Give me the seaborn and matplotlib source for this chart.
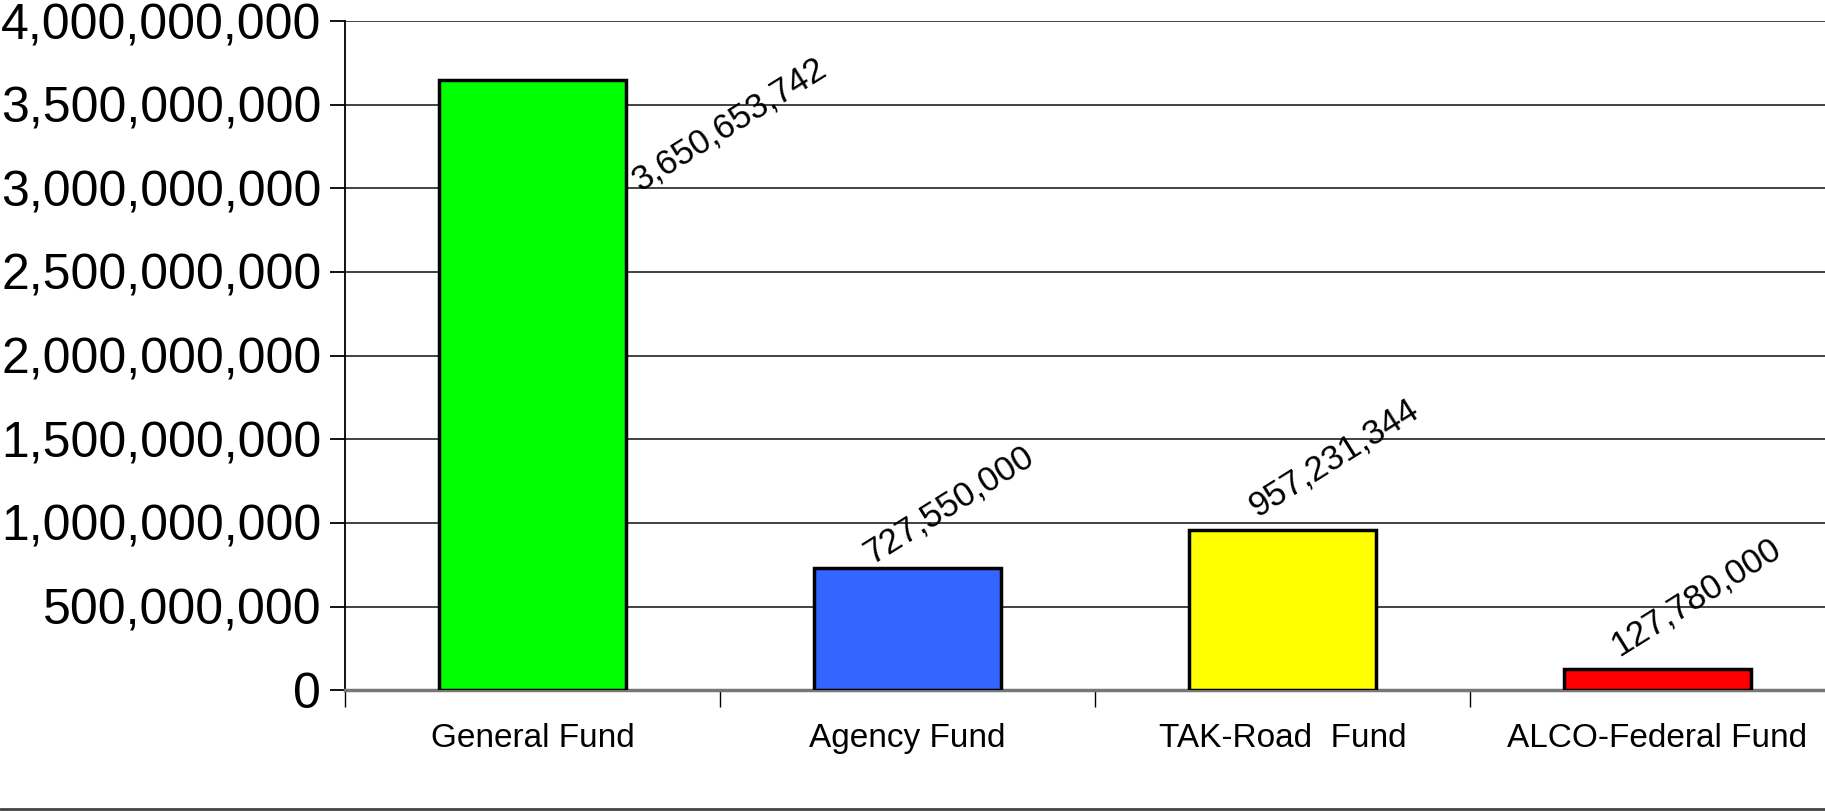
import pandas as pd
import matplotlib.pyplot as plt
import seaborn as sns
from matplotlib.ticker import FuncFormatter, MultipleLocator, FixedLocator
from matplotlib.lines import Line2D


funds = ["General Fund", "Agency Fund", "TAK-Road  Fund", "ALCO-Federal Fund"]
amounts = [3650653742, 727550000, 957231344, 127780000]
bar_colors = ["#00FF00", "#3366FF", "#FFFF00", "#FF0000"]

df = pd.DataFrame({"Fund": funds, "Amount": amounts})

sns.set_style("white")
plt.rcParams["font.family"] = ["Liberation Sans", "DejaVu Sans"]
plt.rcParams["text.color"] = "black"
plt.rcParams["xtick.color"] = "black"
plt.rcParams["ytick.color"] = "black"

fig = plt.figure(figsize=(18.25, 8.11), dpi=100)
# axes runs a little past the right edge, as in the original slide
ax = fig.add_axes([0.189, 0.149, 0.822, 0.825])

sns.barplot(data=df, x="Fund", y="Amount", hue="Fund", palette=bar_colors,
            legend=False, width=0.5, edgecolor="black", linewidth=2.5,
            saturation=1, ax=ax, zorder=3)

ax.set_xlim(-0.5, 3.5)
ax.set_ylim(0, 4000000000)
ax.yaxis.set_major_locator(MultipleLocator(500000000))
ax.yaxis.set_major_formatter(FuncFormatter(lambda v, p: f"{int(v):,}"))
ax.grid(axis="y", color="#333333", linewidth=1.3, zorder=0)
ax.set_axisbelow(True)

for s in ["top", "right"]:
    ax.spines[s].set_visible(False)
ax.spines["left"].set_color("black")
ax.spines["left"].set_linewidth(1.3)
ax.spines["bottom"].set_color("#777777")
ax.spines["bottom"].set_linewidth(2.5)

ax.tick_params(axis="y", which="major", left=True, length=11, width=1.3,
               labelsize=36, pad=6, color="black", labelcolor="black")
ax.tick_params(axis="x", which="major", length=0, labelsize=24, pad=24,
               labelcolor="black")
ax.xaxis.set_minor_locator(FixedLocator([-0.5, 0.5, 1.5, 2.5]))
ax.tick_params(axis="x", which="minor", bottom=True, length=12, width=1.0,
               color="black")
ax.set_xlabel("")
ax.set_ylabel("")

# value labels, rotated like the original
offsets = [(142, -32), (30, 46), (37, 52), (28, 52)]
for i, v in enumerate(amounts):
    ax.annotate(f"{v:,}", (i, v), xytext=offsets[i], textcoords="offset points",
                ha="center", va="center", rotation=32, fontsize=25,
                color="black", annotation_clip=False)

fig.add_artist(Line2D([0, 1], [0.003, 0.003], transform=fig.transFigure,
                      color="#444444", linewidth=2))

plt.savefig("out.png", dpi=100)
